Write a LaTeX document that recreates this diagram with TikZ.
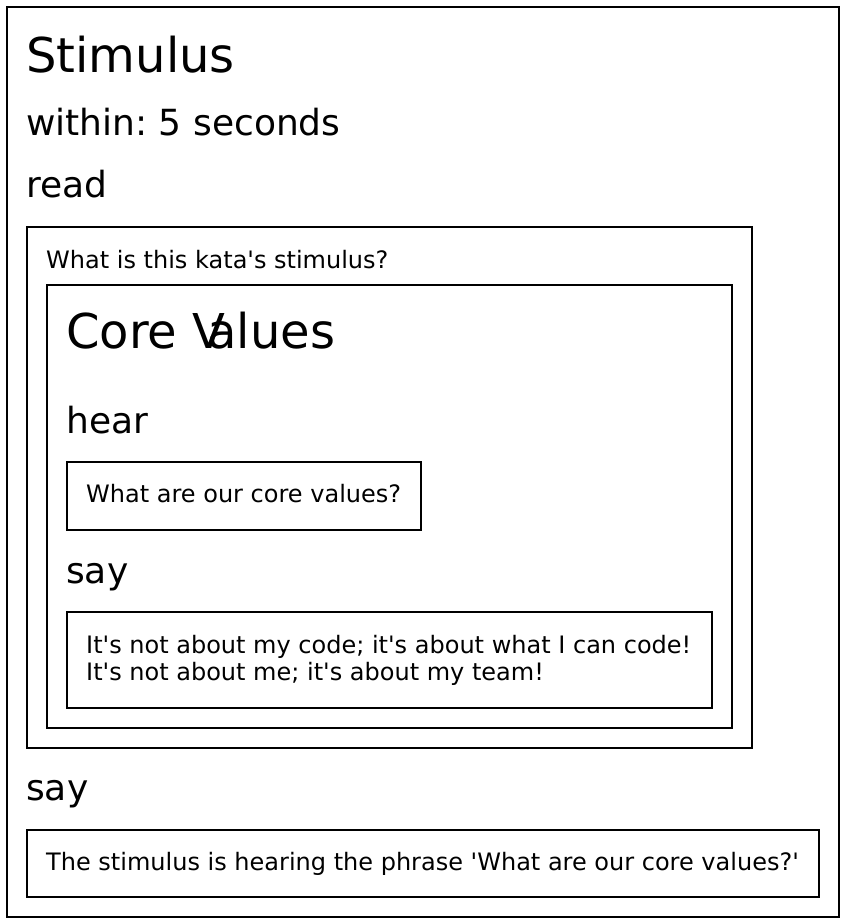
\documentclass[tikz,border=0pt]{standalone}
\usepackage{fontspec}
\setmainfont{DejaVu Sans}[Ligatures=TeXOff]
\frenchspacing
\begin{document}
\begin{tikzpicture}[x=1pt,y=-1pt,
  frame/.style={draw=black,line width=2pt,inner sep=0pt,anchor=north west},
  lbl/.style={anchor=base west,inner sep=0pt},
  title/.style={lbl,font=\fontsize{48}{58}\selectfont},
  kw/.style={lbl,font=\fontsize{36}{43}\selectfont},
  small/.style={lbl,font=\fontsize{24}{27}\selectfont,align=left}]
\useasboundingbox (0,0) rectangle (846,924);

% outer stimulus frame and its header
\node[frame,minimum width=832pt,minimum height=910pt] (stimulusbox) at (5.5,5.5) {};
\node[title] (stimulus) at (26,72) {Stimulus};
\node[kw] (within) at (26,135) {within: 5 seconds};
\node[kw] (read) at (26,197) {read};

% question block
\node[frame,minimum width=725pt,minimum height=521pt] (readbox) at (25.5,225.5) {};
\node[small] (question) at (46,268) {What is this kata's stimulus?};

% core values block
\node[frame,minimum width=685pt,minimum height=443pt] (corebox) at (45.5,283.5) {};
\node[title] (core) at (66,348) {Core V\kern-18pt alues};
\node[kw] (hear) at (66,433) {hear};
\node[frame,minimum width=354pt,minimum height=68pt] (hearbox) at (65.5,460.5) {};
\node[small] (heartext) at (86,502) {What are our core values?};
\node[kw] (say) at (66,583) {say};
\node[frame,minimum width=645pt,minimum height=96pt] (saybox) at (65.5,610.5) {};
% base anchor of a multi-line node sits on its last line
\node[small] (saytext) at (86,680) {It's not about my code; it's about what I can code!\\It's not about me; it's about my team!};

% answer block
\node[kw] (answer) at (26,800) {say};
\node[frame,minimum width=792pt,minimum height=67pt] (answerbox) at (25.5,828.5) {};
\node[small] (answertext) at (46,870) {The stimulus is hearing the phrase 'What are our core values?'};
\end{tikzpicture}
\end{document}
